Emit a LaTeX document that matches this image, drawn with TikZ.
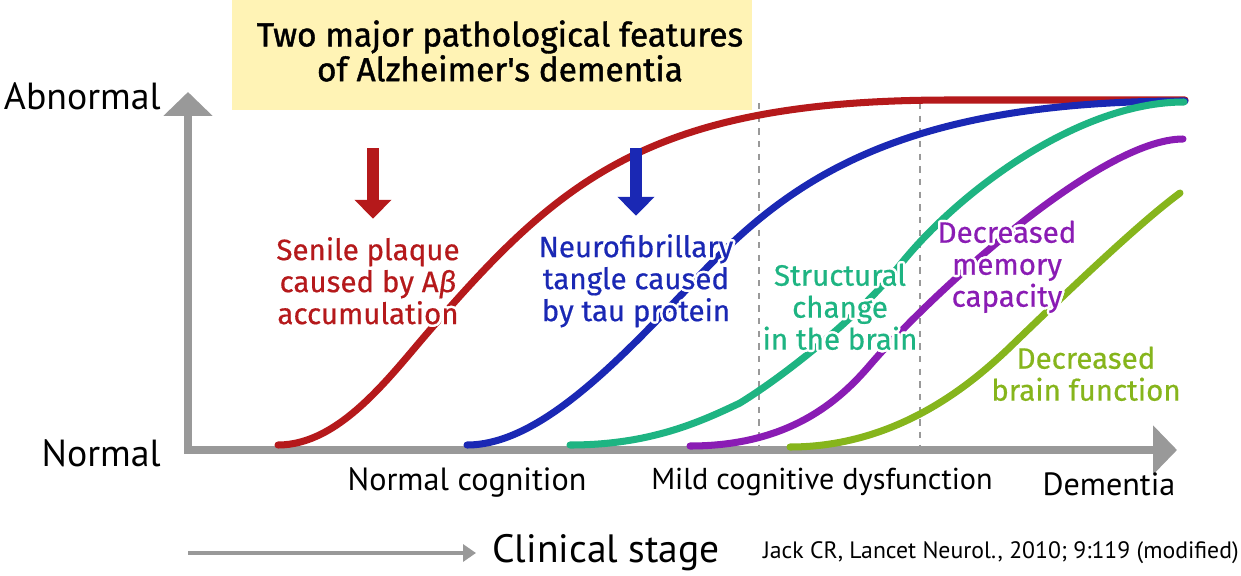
\documentclass[tikz,border=0pt]{standalone}
\usepackage{fontspec}
\setmainfont{Fira Sans}
\newfontfamily\axisfont{PT Sans}
\newfontfamily\titlefont{Fira Sans}[FakeBold=1.2]
\newfontfamily\labelfont{Fira Sans}[FakeBold=0.5]
\usepackage{contour}
\contourlength{1.4pt}
\usetikzlibrary{positioning, arrows.meta}

\definecolor{plaquered}{HTML}{B5191B}
\definecolor{taublue}{HTML}{1A28B4}
\definecolor{brainteal}{HTML}{1EB482}
\definecolor{memorypurple}{HTML}{8A1CB4}
\definecolor{functiongreen}{HTML}{86B51C}
\definecolor{axisgray}{HTML}{999999}
\definecolor{titleyellow}{HTML}{FFF3B5}

\newcommand{\halo}[1]{\contour{white}{#1}}

\begin{document}
\begin{tikzpicture}[
x=0.02cm, y=-0.02cm,
axis/.style={
	draw=axisgray,
	line width=4.4pt,
	{Triangle[width=0.96cm, length=0.48cm]}-{Triangle[width=0.96cm, length=0.48cm]}
},
stage/.style={
	draw=axisgray, line width=2.2pt, -{Triangle[width=0.34cm, length=0.26cm]}
},
divider/.style={
	draw=axisgray, line width=1.1pt, dash pattern=on 3.6pt off 3.6pt
},
curve/.style={
	line width=4pt, line cap=round
},
pointer/.style={
	line width=6.6pt, -{Triangle[width=0.72cm, length=0.38cm]}
},
label/.style={
	align=center,
	inner sep=0pt,
	font=\labelfont\fontsize{16.8}{18.2}\selectfont
},
axislabel/.style={
	inner sep=0pt,
	font=\axisfont\fontsize{21.5}{24}\selectfont
},
stagelabel/.style={
	inner sep=0pt,
	font=\axisfont\fontsize{18.3}{21}\selectfont
}
]
\useasboundingbox (0,0) rectangle (1241,575);

% Title
\fill[titleyellow] (232,0) rectangle (752,110);
\node[align=center, font=\titlefont\fontsize{19}{19.8}\selectfont] (title) at (500,51)
	{Two major pathological features\\of Alzheimer's dementia};

% Axes
\coordinate (origin) at (188,450);
\coordinate (abnormal) at (188,92);
\coordinate (dementia) at (1177,450);
\draw[axis] (abnormal) -- (origin) -- (dementia);
\node[axislabel, anchor=east] (abnormaltext) at (161,96) {Abnormal};
\node[axislabel, anchor=east] (normaltext) at (161,453) {Normal};

% Stage dividers
\coordinate (mcitop) at (759,103);
\coordinate (dementiatop) at (920,103);
\draw[divider] (mcitop) -- (mcitop |- origin);
\draw[divider] (dementiatop) -- (dementiatop |- origin);

% Curves
\draw[curve, plaquered] (278,445) .. controls (340,445) and (390,376) .. (430,330)
	.. controls (560,180) and (650,100) .. (950,100) -- (1185,100);
\draw[curve, taublue] (467,445) .. controls (540,445) and (620,360) .. (700,275)
	.. controls (790,180) and (900,101) .. (1185,101);
\draw[curve, brainteal] (570,445) .. controls (650,445) and (700,422) .. (740,403)
	.. controls (790,372) and (860,315) .. (900,265)
	.. controls (960,190) and (1080,102) .. (1184,102);
\draw[curve, memorypurple] (690,446) .. controls (790,446) and (840,400) .. (870,365)
	.. controls (930,295) and (1100,139) .. (1183,139);
\draw[curve, functiongreen] (790,447) .. controls (900,447) and (975,380) .. (1007,350)
	.. controls (1100,260) and (1150,215) .. (1180,193);

% Labels
\node[label, text=plaquered] (plaque) at (368,282)
	{\halo{Senile plaque}\\\halo{caused by A\textit{β}}\\\halo{accumulation}};
\node[label, text=taublue] (tangle) at (636,282)
	{\halo{Neurofibrillary}\\\halo{tangle caused}\\\halo{by tau protein}};
\node[label, text=brainteal] (structure) at (840,308)
	{\halo{Structural}\\\halo{change}\\\halo{in the brain}};
\node[label, text=memorypurple] (memory) at (1007,268)
	{\halo{Decreased}\\\halo{memory}\\\halo{capacity}};
\node[label, text=functiongreen] (function) at (1086,375)
	{\halo{Decreased}\\\halo{brain function}};

% Pointers
\coordinate (plaquestart) at (373,148);
\coordinate (tanglestart) at (636,148);
\draw[pointer, plaquered] (plaquestart) -- (plaquestart |- plaque.north)
	[shorten >=0.36cm];
\draw[pointer, taublue] (tanglestart) -- (tanglestart |- tangle.north)
	[shorten >=0.36cm];

% Stages
\node[stagelabel] (normalstage) at (467,482) {Normal cognition};
\node[stagelabel, font=\axisfont\fontsize{17.2}{20}\selectfont] (mcistage) at (822,482) {Mild cognitive dysfunction};
\node[stagelabel] (dementiastage) at (1109,484) {Dementia};

% Clinical stage
\coordinate (stagestart) at (188,553);
\node[anchor=west, inner sep=0pt, font=\axisfont\fontsize{22.5}{26}\selectfont] (clinical) at (492,553) {Clinical stage};
\draw[stage] (stagestart) -- ([xshift=-0.32cm]clinical.west);
\node[anchor=east, inner sep=0pt, font=\axisfont\fontsize{13.5}{16}\selectfont] (source) at (1239,553)
	{Jack CR, Lancet Neurol., 2010; 9:119 (modified)};

\end{tikzpicture}
\end{document}
